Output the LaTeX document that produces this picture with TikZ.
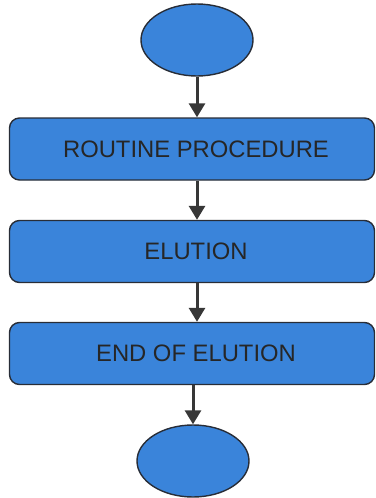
\documentclass[tikz,border=0pt]{standalone}
\usepackage{fontspec}
\setmainfont{Liberation Sans}
\usetikzlibrary{arrows.meta,shapes.geometric}
\definecolor{boxblue}{RGB}{58,132,218}
\definecolor{edge}{RGB}{40,45,55}
\definecolor{arr}{RGB}{55,55,55}
\tikzset{
  x=1pt,y=1pt,
  stepbox/.style={draw=edge,line width=1.4pt,fill=boxblue,rounded corners=10pt,
    minimum width=365pt,minimum height=62pt,inner sep=0pt,
    font=\fontsize{23.8}{26}\selectfont,text=black!85},
  term/.style={draw=edge,line width=1.4pt,fill=boxblue,ellipse,
    minimum width=112pt,minimum height=72pt,inner sep=0pt},
  conn/.style={draw=arr,line width=3pt,-{Triangle[length=14pt,width=16pt]}}
}
\newcommand{\shifted}[1]{\hspace*{8pt}#1}
\begin{document}
\begin{tikzpicture}
\useasboundingbox (0,0) rectangle (375,-498);
\node[term] (start) at (197,-40) {};
\node[stepbox] (b1) at (192,-149) {\shifted{ROUTINE PROCEDURE}};
\node[stepbox] (b2) at (192,-251.5) {\shifted{ELUTION}};
\node[stepbox] (b3) at (192,-353.5) {\shifted{END OF ELUTION}};
\node[term] (stop) at (193,-461) {};
\draw[conn] (start.south) -- (start.south |- b1.north);
\draw[conn] (b1.south -| start.south) -- (start.south |- b2.north);
\draw[conn] (b2.south -| start.south) -- (start.south |- b3.north);
\draw[conn] (b3.south -| stop.north) -- (stop.north);
\end{tikzpicture}
\end{document}
